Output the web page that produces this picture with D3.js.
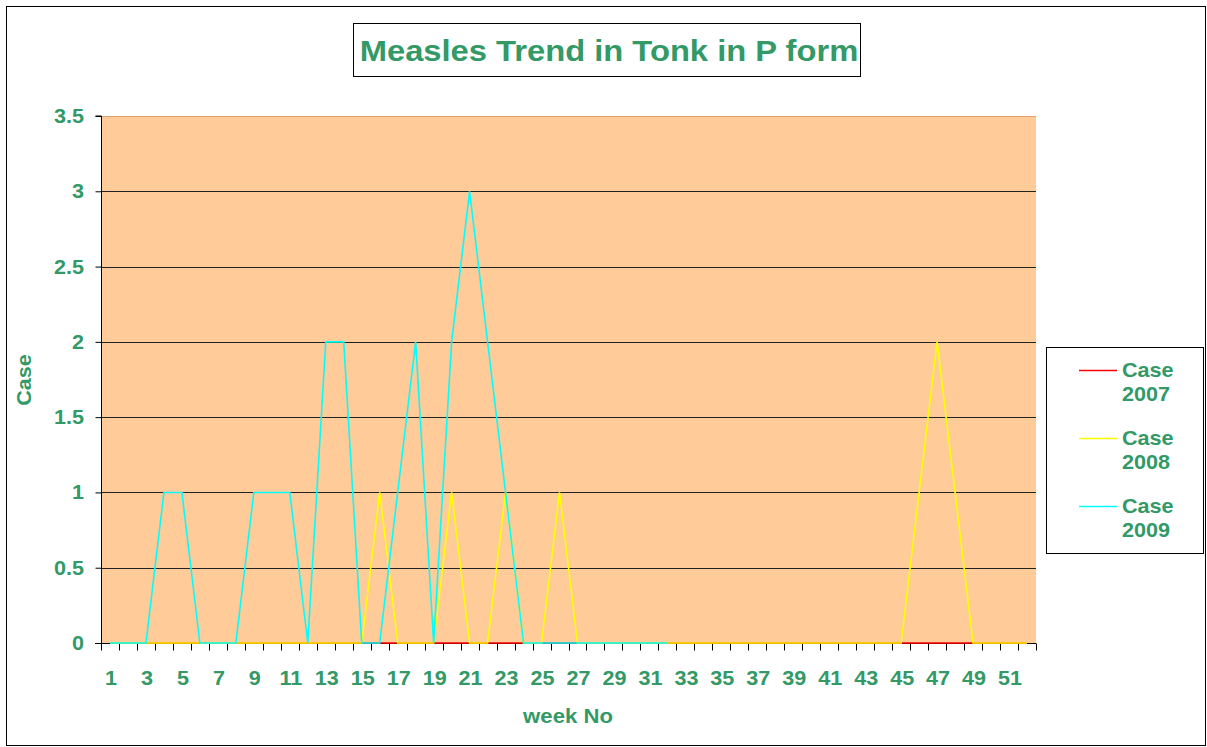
<!DOCTYPE html>
<html>
<head>
<meta charset="utf-8">
<script src="https://cdn.jsdelivr.net/npm/d3@7/dist/d3.min.js"></script>
<style>
  html, body { margin: 0; padding: 0; background: #fff; }
  svg { display: block; }
  text { font-family: Arial, "Liberation Sans", sans-serif; font-weight: bold; fill: #339966; }
</style>
</head>
<body>
<svg id="chart" width="1207" height="747"></svg>
<script>
// Weekly measles cases, Tonk district (P form)
const weeks = d3.range(1, 53);
const case2007 = [0,0,0,0,0,0,0,0,0,0,0,0,0,0,0,0,0,0,0,0,0,0,0,0,0,0,0,0,0,0,0,0,0,0,0,0,0,0,0,0,0,0,0,0,0,0,0,0,0,0,0,0];
const case2008 = [0,0,0,0,0,0,0,0,0,0,0,0,0,0,0,1,0,0,0,1,0,0,1,0,0,1,0,0,0,0,0,0,0,0,0,0,0,0,0,0,0,0,0,0,0,1,2,1,0,0,0,0];
const case2009 = [0,0,0,1,1,0,0,0,1,1,1,0,2,2,0,0,1,2,0,2,3,2,1,0,0,0,0,0,0,0,0,0];
const yTicks = [0, 0.5, 1, 1.5, 2, 2.5, 3, 3.5];
const seriesNames = ["Case 2007", "Case 2008", "Case 2009"];
const seriesColors = ["#ff0000", "#ffff00", "#00ffff"];
const seriesData = [case2007, case2008, case2009];

const svg = d3.select("#chart");
const W = 1207, H = 747;
const plot = { left: 101, right: 1036, top: 116, bottom: 643 };
const STRETCH = 1.08; // slightly wide lettering

// places a text with horizontal stretch around its anchor point
function label(parent, x, y, str, size, anchor) {
  return parent.append("text")
    .attr("transform", `translate(${x},${y}) scale(${STRETCH},1)`)
    .attr("text-anchor", anchor || "start")
    .style("font-size", size + "px")
    .text(str);
}

// outer chart border
svg.append("rect").attr("x", 6.5).attr("y", 6.5).attr("width", W - 8).attr("height", H - 8)
  .attr("fill", "#fff").attr("stroke", "#000").attr("stroke-width", 1);

const x = d3.scaleBand().domain(weeks).range([plot.left, plot.right]).paddingInner(0).paddingOuter(0);
const y = d3.scaleLinear().domain([0, 3.5]).range([plot.bottom, plot.top]);

// plot area
svg.append("rect").attr("x", plot.left).attr("y", plot.top)
  .attr("width", plot.right - plot.left).attr("height", plot.bottom - plot.top)
  .attr("fill", "#ffcc99");

// horizontal gridlines
svg.append("g").selectAll("line").data(yTicks.filter(d => d > 0)).join("line")
  .attr("x1", plot.left).attr("x2", plot.right)
  .attr("y1", d => Math.round(y(d)) + 0.5).attr("y2", d => Math.round(y(d)) + 0.5)
  .attr("stroke", d => d === 3.5 ? "#e0a070" : "#222").attr("stroke-width", 1);

// y axis
const yAxis = svg.append("g").attr("transform", `translate(${plot.left + 0.5},0)`)
  .call(d3.axisLeft(y).tickValues(yTicks).tickSize(6).tickFormat(""));
yAxis.select(".domain").attr("stroke", "#000").attr("d", `M-6,${plot.top}H0V${plot.bottom}`);
yAxis.selectAll(".tick line").attr("stroke", "#000");
yTicks.forEach(v => label(svg, 84, y(v) + 7, String(v), 20, "end"));

// x axis: ticks on category boundaries, labels on every other week
const xAxisG = svg.append("g").attr("transform", `translate(0,${plot.bottom + 0.5})`);
xAxisG.append("line").attr("x1", plot.left - 6).attr("x2", plot.right).attr("y1", 0).attr("y2", 0).attr("stroke", "#000");
const boundaries = weeks.map(w => x(w)).concat([plot.right]);
xAxisG.selectAll(".bt").data(boundaries).join("line").attr("class", "bt")
  .attr("x1", d => Math.round(d) + 0.5).attr("x2", d => Math.round(d) + 0.5)
  .attr("y1", 0).attr("y2", 7).attr("stroke", "#000");
weeks.filter(w => w % 2 === 1).forEach(w =>
  label(xAxisG, x(w) + x.bandwidth() / 2 + 1, 41, String(w), 20, "middle"));

// series lines
const line = d3.line().x((d, i) => x(weeks[i]) + x.bandwidth() / 2).y(d => y(d));
seriesData.forEach((vals, k) => {
  svg.append("path").datum(vals).attr("d", line)
    .attr("fill", "none").attr("stroke", seriesColors[k]).attr("stroke-width", 1.6)
    .attr("stroke-linejoin", "miter");
});

// axis titles
svg.append("text").attr("transform", `translate(31,380) rotate(-90) scale(${STRETCH},1)`)
  .attr("text-anchor", "middle").style("font-size", "20px").text("Case");
label(svg, 568, 723, "week No", 20.5, "middle");

// title box
svg.append("rect").attr("x", 353.5).attr("y", 23.5).attr("width", 507).attr("height", 53)
  .attr("fill", "#fff").attr("stroke", "#000");
label(svg, 609, 61, "Measles Trend in Tonk in P form", 30.3, "middle");

// legend
const lg = svg.append("g");
lg.append("rect").attr("x", 1046.5).attr("y", 347.5).attr("width", 157).attr("height", 206)
  .attr("fill", "#fff").attr("stroke", "#000");
seriesNames.forEach((name, k) => {
  const cy = 370 + k * 68;
  lg.append("line").attr("x1", 1079).attr("x2", 1117).attr("y1", cy + 0.5).attr("y2", cy + 0.5)
    .attr("stroke", seriesColors[k]).attr("stroke-width", 1.5);
  const parts = name.split(" ");
  label(lg, 1122, cy + 7, parts[0], 20, "start");
  label(lg, 1122, cy + 31, parts[1], 20, "start");
});
</script>
</body>
</html>
